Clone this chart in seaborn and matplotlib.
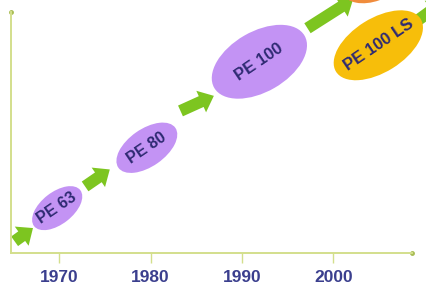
import numpy as np
import pandas as pd
import seaborn as sns
import matplotlib.pyplot as plt
from matplotlib.patches import Ellipse, FancyArrowPatch

sns.set_style('white')
plt.rcParams['font.family'] = ['Liberation Sans', 'DejaVu Sans']

# grades: centre year, level, size (years), tilt
grades = ['PE 63', 'PE 80', 'PE 100', 'PE 100 LS', '']
grade_year = [1969.8, 1979.6, 1991.9, 2004.9, 2004.3]
grade_level = [4.9, 11.5, 20.9, 22.7, 29.6]
grade_major = [6.4, 7.6, 11.4, 10.9, 7.0]
grade_minor = [3.5, 4.1, 6.6, 5.9, 4.2]
grade_angle = [38, 35, 30, 32, 20]
grade_color = ['#c393f4', '#c393f4', '#c393f4', '#f7be0a', '#f08c3c']
label_size = [11.5, 11.5, 12, 12, 0]

# arrows between the grades
arrow_x0 = [1964.9, 1972.6, 1983.0, 1996.9, 2008.9]
arrow_y0 = [1.1, 7.1, 15.4, 24.4, 25.2]
arrow_x1 = [1967.4, 1975.8, 1987.2, 2002.4, 2012.2]
arrow_y1 = [2.9, 9.3, 17.3, 27.9, 27.6]

years = [1970, 1980, 1990, 2000]

df = pd.DataFrame({'grade': grades, 'year': grade_year, 'level': grade_level,
                   'major': grade_major, 'minor': grade_minor,
                   'angle': grade_angle, 'color': grade_color, 'size': label_size})

fig = plt.figure(figsize=(4.27, 2.87), dpi=100)
ax = fig.add_axes([0, 0, 1, 1])
ax.set_xlim(1963.55, 2010.22)
ax.set_ylim(-3.72, 27.65)

axis_color = '#d3df8c'
sns.despine(ax=ax, top=True, right=True)
ax.spines['left'].set_position(('data', 1964.75))
ax.spines['bottom'].set_position(('data', 0))
ax.spines['left'].set_bounds(0, 26.3)
ax.spines['bottom'].set_bounds(1964.75, 2008.6)
for s in ['left', 'bottom']:
    ax.spines[s].set_color(axis_color)
    ax.spines[s].set_linewidth(1.4)
ax.plot([1964.75], [26.3], 'o', color='#a9bd55', ms=2.5, clip_on=False)
ax.plot([2008.6], [0], 'o', color='#a9bd55', ms=2.5, clip_on=False)

ax.set_yticks([])
ax.set_xticks(years)
ax.set_xticklabels([str(y) for y in years], fontsize=12.5, weight='bold', color='#3b3f8e')
ax.tick_params(axis='x', direction='out', length=7, width=1, color=axis_color, pad=5.5, bottom=True)

for x0, y0, x1, y1 in zip(arrow_x0, arrow_y0, arrow_x1, arrow_y1):
    ax.add_patch(FancyArrowPatch((x0, y0), (x1, y1),
                                 arrowstyle='simple,head_length=10,head_width=17,tail_width=8.5',
                                 color='#7dc520', lw=0, zorder=2))

for _, row in df.iterrows():
    ax.add_patch(Ellipse((row['year'], row['level']), row['major'], row['minor'],
                         angle=row['angle'], facecolor=row['color'], edgecolor='none', zorder=3))
    if row['grade']:
        ax.text(row['year'], row['level'], row['grade'], rotation=34,
                ha='center', va='center', rotation_mode='anchor',
                fontsize=row['size'], weight='bold', color='#2e2a72', zorder=4)

fig.savefig('out.png', dpi=100)
